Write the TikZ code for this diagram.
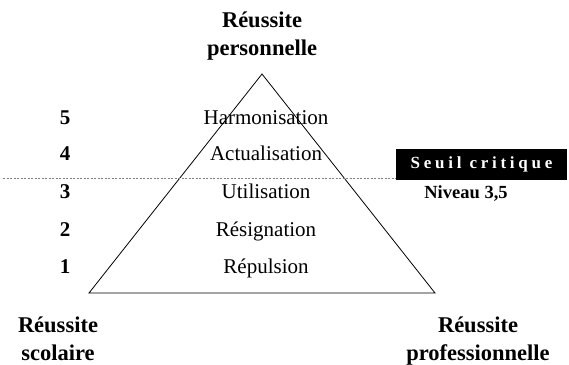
\documentclass[tikz,border=0pt]{standalone}
\usepackage{fontspec}
\setmainfont{Liberation Serif}
\usetikzlibrary{calc, positioning}
\tikzstyle{level}=[inner sep=0pt, anchor=base, font=\fontsize{21}{25}\selectfont]
\tikzstyle{num}=[inner sep=0pt, anchor=base, font=\fontsize{21}{25}\selectfont\bfseries]
\tikzstyle{pole}=[inner sep=0pt, anchor=base, align=center, font=\fontsize{22.5}{27.5}\selectfont\bfseries]

\begin{document}
\begin{tikzpicture}[x=1pt, y=-1pt]
\useasboundingbox (0,0) rectangle (569,364);

\coordinate (top) at (262,74);\coordinate (bl) at (89,293);\coordinate (br) at (435,293);
\draw [line width=0.8pt] (top) -- (bl) -- (br) -- cycle;

\node[level] (harm) at (266,124) {Harmonisation};
\node[level] (actu) at (266,160) {Actualisation};
\node[level] (util) at (266,198) {Utilisation};
\node[level] (resi) at (266,236) {Résignation};
\node[level] (repu) at (266,273) {Répulsion};

\node[num] (n5) at (65,124) {5};\node[num] (n4) at (65,160) {4};
\node[num] (n3) at (65,198) {3};\node[num] (n2) at (65,236) {2};
\node[num] (n1) at (65,273) {1};

\node[fill=black, text=white, inner sep=0pt, minimum width=171pt, minimum height=31pt,
  font=\fontsize{17}{20}\selectfont\bfseries\addfontfeature{LetterSpace=22}] (seuil) at (481.5,164.5) {Seuil critique};
\node[inner sep=0pt, anchor=base, font=\fontsize{18.5}{21}\selectfont\bfseries] (niv) at (466,198) {Niveau 3,5};
\coordinate (dl) at (3,178);
\draw [gray, line width=0.8pt, dash pattern=on 2pt off 1.5pt] (dl) -- (dl -| seuil.west);

\node[pole] (perso) at (262,55) {Réussite\\personnelle};
\node[pole] (scol) at (58,360) {Réussite\\scolaire};
\node[pole] (prof) at (478,360) {Réussite\\professionnelle};
\end{tikzpicture}
\end{document}
